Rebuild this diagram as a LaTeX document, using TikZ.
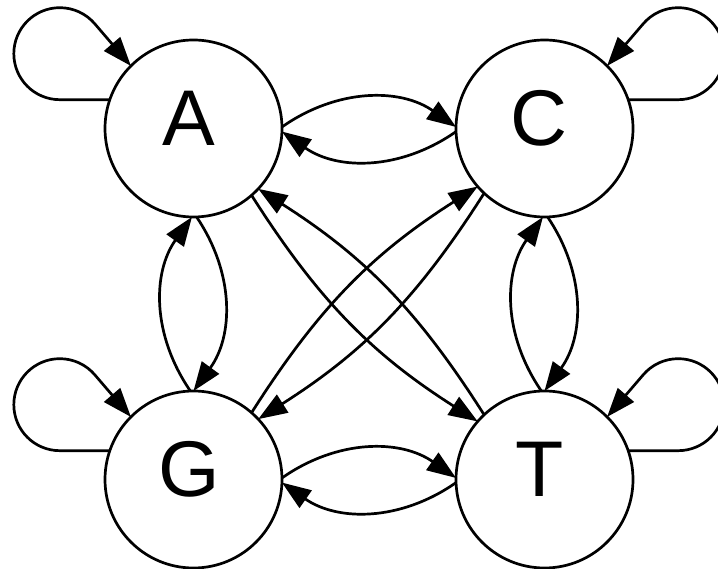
\documentclass[tikz,border=0pt]{standalone}
\usepackage{fontspec}
\setmainfont{Liberation Sans}
\usetikzlibrary{arrows.meta}
\begin{document}
\begin{tikzpicture}[x=1pt,y=1pt,
  state/.style={circle,draw,line width=2.7pt,minimum size=177pt,inner sep=0pt,outer sep=0pt},
  letter/.style={font=\fontsize{79}{80}\selectfont,inner sep=0pt},
  conn/.style={line width=2.7pt,-{Triangle[length=29pt,width=21pt]}}]
\useasboundingbox (0,0) rectangle (718,568);
\clip (0,0) rectangle (718,568);
% states
\node[state] (A) at (193.5,439.5) {};
\node[state] (C) at (544.5,439.5) {};
\node[state] (G) at (193.5,88.5) {};
\node[state] (T) at (544.5,88.5) {};
\node[letter] (Al) at (188.5,450) {A};
\node[letter] (Cl) at (539.5,450) {C};
\node[letter] (Gl) at (189.5,99) {G};
\node[letter] (Tl) at (539.5,99) {T};
% self loops
\draw[conn] (A.161) -- ++(-50,0) arc[start angle=270,end angle=40,radius=46] -- (A.135);
\draw[conn] (C.19) -- ++(50,0) arc[start angle=-90,end angle=140,radius=46] -- (C.45);
\draw[conn] (G.161) -- ++(-50,0) arc[start angle=270,end angle=40,radius=46] -- (G.135);
\draw[conn] (T.19) -- ++(50,0) arc[start angle=-90,end angle=140,radius=46] -- (T.45);
% horizontal pairs
\draw[conn] (A.1) to[bend left=35] (C.179);
\draw[conn] (C.182) to[bend left=35] (A.-2);
\draw[conn] (G.1) to[bend left=35] (T.179);
\draw[conn] (T.182) to[bend left=35] (G.-2);
% vertical pairs
\draw[conn] (A.-88) to[bend left=35] (G.90);
\draw[conn] (G.92) to[bend left=35] (A.-91);
\draw[conn] (C.-88) to[bend left=35] (T.90);
\draw[conn] (T.92) to[bend left=35] (C.-91);
% diagonals
\draw[conn] (A.-49.6) to[bend right=12.5] (T.139);
\draw[conn] (T.133) to[bend right=12.5] (A.-43);
\draw[conn] (G.49.6) to[bend left=12.5] (C.-139);
\draw[conn] (C.-133) to[bend left=12.5] (G.43);
\end{tikzpicture}
\end{document}
